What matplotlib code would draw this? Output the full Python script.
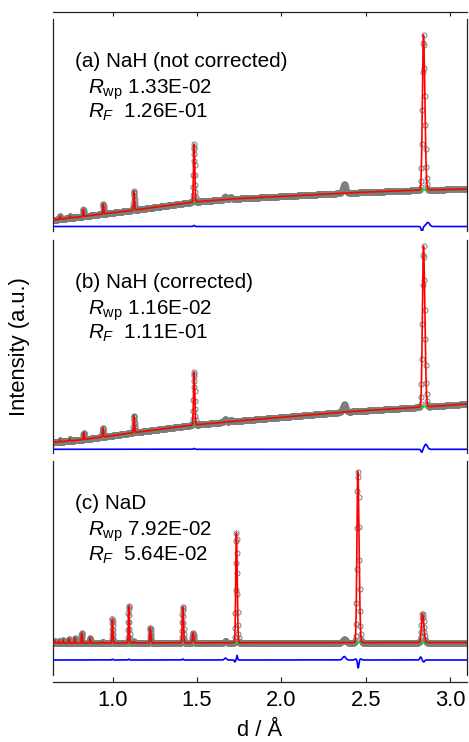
import numpy as np
import matplotlib.pyplot as plt

plt.rcParams['font.family'] = ['Liberation Sans', 'DejaVu Sans']
plt.rcParams['mathtext.fontset'] = 'custom'
plt.rcParams['mathtext.rm'] = 'Liberation Sans'
plt.rcParams['mathtext.it'] = 'Liberation Sans:italic'

# ---- (a) NaH not corrected ----
bg_d_a = [0.646, 0.83, 1.13, 1.48, 1.70, 2.38, 2.84, 3.10]
bg_a = [11, 14.7, 21, 29, 32, 38, 41, 42]
pk_d_a = [0.688, 0.747, 0.826, 0.944, 1.126, 1.482, 2.842]
pk_h_a = [3, 2, 7, 10, 19, 58, 155]
imp_d_a = [1.666, 1.700, 2.372]     # seen only in the observed data
imp_h_a = [3, 2, 9]
imp_w_a = [0.006, 0.006, 0.009]
dif_off_a = 4.5
dif_d_a = [1.482, 2.833, 2.868]
dif_h_a = [1.0, -5, 4]
dif_w_a = [0.004, 0.005, 0.010]

# ---- (b) NaH corrected ----
bg_d_b = [0.646, 0.83, 1.13, 1.48, 1.70, 2.37, 2.84, 3.10]
bg_b = [10.5, 13.5, 20.5, 28, 31.5, 41, 46, 49]
pk_d_b = [0.686, 0.745, 0.828, 0.942, 1.126, 1.482, 2.842]
pk_h_b = [2, 2, 7, 9, 17, 53, 161]
imp_d_b = [1.666, 1.700, 2.372]
imp_h_b = [3, 2, 8]
imp_w_b = [0.006, 0.006, 0.009]
dif_off_b = 3.7
dif_d_b = [1.482, 2.832, 2.856]
dif_h_b = [0.8, -3, 5]
dif_w_b = [0.004, 0.005, 0.009]

# ---- (c) NaD ----
bg_d_c = [0.646, 3.10]
bg_c = [32, 32.5]
pk_d_c = [0.656, 0.680, 0.706, 0.739, 0.775, 0.816, 0.866, 0.940, 0.998,
          1.095, 1.126, 1.223, 1.415, 1.476, 1.733, 2.453, 2.836]
pk_h_c = [2, 2, 3, 4, 5, 10, 5, 1, 24, 37, 1.5, 15, 36, 10, 110, 171, 29]
imp_d_c = [1.668, 2.372]
imp_h_c = [2, 3.5]
imp_w_c = [0.006, 0.009]
dif_off_c = 15
dif_d_c = [0.998, 1.095, 1.415, 1.668, 1.724, 1.737, 2.372, 2.440, 2.455,
           2.470, 2.825, 2.843]
dif_h_c = [0.8, 0.8, 1.0, 2, -2, 4.5, 3.5, 1, -8, 1, 3, -2]
dif_w_c = [0.003, 0.003, 0.003, 0.006, 0.003, 0.003, 0.009, 0.005, 0.004,
           0.006, 0.005, 0.005]

labels = ['(a) NaH (not corrected)', '(b) NaH (corrected)', '(c) NaD']
rwp = ['1.33E-02', '1.16E-02', '7.92E-02']
rf = ['1.26E-01', '1.11E-01', '5.64E-02']

xmin, xmax = 0.646, 3.10
xticks = [1.0, 1.5, 2.0, 2.5, 3.0]


def peaks(d, pos, hgt, k=0.0022):
    y = np.zeros_like(d)
    for p, h in zip(pos, hgt):
        s = np.where(d < p, k * p, 1.3 * k * p)
        y += h * np.exp(-0.5 * ((d - p) / s) ** 2)
    return y


def bumps(d, pos, hgt, wid):
    y = np.zeros_like(d)
    for p, h, w in zip(pos, hgt, wid):
        y += h * np.exp(-0.5 * ((d - p) / w) ** 2)
    return y


d_obs = xmin * 1.0009 ** np.arange(1745)
d_calc = xmin * 1.0002 ** np.arange(7850)

W, H = 469, 742
fig = plt.figure(figsize=(W / 100, H / 100), dpi=100)
# panel (top px, bottom px)
boxes = [(19, 231), (240, 453), (461, 675)]
left, right = 53, 467

panels = [
    (bg_d_a, bg_a, pk_d_a, pk_h_a, imp_d_a, imp_h_a, imp_w_a, dif_off_a, dif_d_a, dif_h_a, dif_w_a),
    (bg_d_b, bg_b, pk_d_b, pk_h_b, imp_d_b, imp_h_b, imp_w_b, dif_off_b, dif_d_b, dif_h_b, dif_w_b),
    (bg_d_c, bg_c, pk_d_c, pk_h_c, imp_d_c, imp_h_c, imp_w_c, dif_off_c, dif_d_c, dif_h_c, dif_w_c),
]

for i, (bd, bv, pd, ph, idd, ih, iw, doff, dd, dh, dw) in enumerate(panels):
    top, bot = boxes[i]
    ax = fig.add_axes([left / W, (H - bot) / H, (right - left) / W, (bot - top) / H])
    ax.set_xlim(xmin, xmax)
    ax.set_ylim(0, bot - top)

    back_o = np.interp(d_obs, bd, bv)
    back_c = np.interp(d_calc, bd, bv)
    obs = back_o + peaks(d_obs, pd, ph) + bumps(d_obs, idd, ih, iw)
    calc = back_c + peaks(d_calc, pd, ph)
    diff = doff + bumps(d_calc, dd, dh, dw)

    ax.plot(d_obs, obs, 'o', ms=3.6, mfc='none', mec='#7d7d7d', mew=0.7, zorder=1)
    ax.plot(d_calc, back_c, color='#00dd00', lw=1.0, zorder=2)
    ax.plot(d_calc, calc, color='red', lw=1.2, zorder=3)
    ax.plot(d_calc, diff, color='#0000ff', lw=1.2, zorder=3)

    ax.text(0.053, 0.80, labels[i], transform=ax.transAxes, va='center', fontsize=14.9)
    ax.text(0.085, 0.668, r'$R_{\rm wp}$ ' + rwp[i], transform=ax.transAxes, va='center', fontsize=14.9)
    ax.text(0.085, 0.560, r'$R_F$  ' + rf[i], transform=ax.transAxes, va='center', fontsize=14.9)

    ax.set_yticks([])
    for s in ['left', 'right', 'top', 'bottom']:
        ax.spines[s].set_color('#222222')
        ax.spines[s].set_linewidth(0.9)
    ax.spines['top'].set_visible(i == 0)
    ax.spines['bottom'].set_visible(i == 2)
    ax.set_xticks(xticks)
    if i == 0:
        ax.spines['top'].set_position(('outward', 5))
        ax.tick_params(axis='x', top=True, bottom=False, labeltop=False, labelbottom=False,
                       direction='in', length=3, width=0.8, color='#222222')
    elif i == 1:
        ax.tick_params(axis='x', top=False, bottom=False, labelbottom=False)
    else:
        ax.spines['bottom'].set_position(('outward', 5))
        ax.set_xticklabels(['1.0', '1.5', '2.0', '2.5', '3.0'])
        ax.tick_params(axis='x', top=False, bottom=True, direction='in', length=3.6,
                       width=0.8, color='#222222', labelsize=15.8, pad=6)

fig.text(20 / W, (H - 347) / H, 'Intensity (a.u.)', rotation=90, ha='center', va='center', fontsize=15.8)
fig.text((left + right) / 2 / W, 6 / H, 'd / Å', ha='center', va='baseline', fontsize=15.8)

fig.savefig('out.png', dpi=100)
